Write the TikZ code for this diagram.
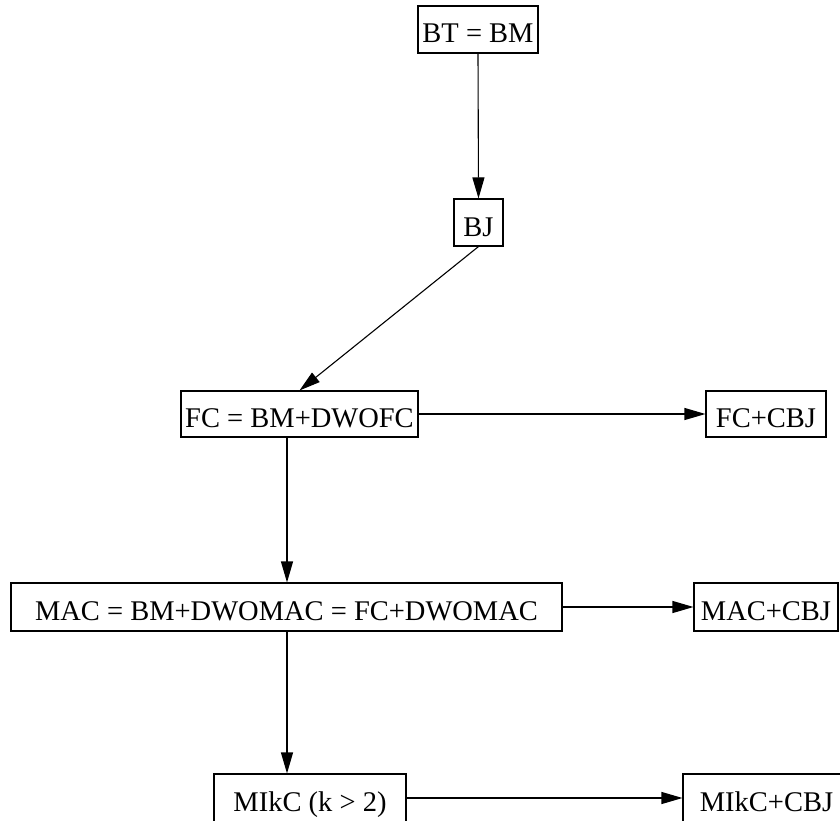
\documentclass[tikz,border=0pt]{standalone}
\usepackage{fontspec}
\setmainfont{Liberation Serif}
\usetikzlibrary{arrows.meta}
\begin{document}
\begin{tikzpicture}[x=1pt,y=-1pt,
  box/.style={draw, line width=1.1pt, inner sep=0pt, text height=27pt, text depth=0pt,
    font=\fontsize{28.5}{34}\selectfont},
  arr/.style={line width=1.1pt, -{Triangle[length=21pt,width=12pt]}}]
\useasboundingbox (0,0) rectangle (840,821);
\node[box, minimum width=120pt, minimum height=47pt] (bt) at (478,29.5) {BT = BM};
\node[box, minimum width=49pt, minimum height=47pt] (bj) at (478.5,222.5) {BJ};
\node[box, minimum width=237pt, minimum height=46pt] (fc) at (299.5,414) {FC = BM+DWOFC};
\node[box, minimum width=120pt, minimum height=46pt] (fcc) at (766,414) {FC+CBJ};
\node[box, minimum width=551pt, minimum height=48pt] (mac) at (286.5,607) {MAC = BM+DWOMAC = FC+DWOMAC};
\node[box, minimum width=144pt, minimum height=48pt] (macc) at (766,607) {MAC+CBJ};
\node[box, minimum width=192pt, minimum height=48pt] (mik) at (310,798) {MIkC (k {\char"3E} 2)};
\node[box, minimum width=167pt, minimum height=48pt] (mikc) at (766.5,798) {MIkC+CBJ};
\coordinate (a) at (287,0);
\draw[arr] (bt.south) -- (bj.north);
\draw[arr] (bj.south) -- (fc.north);
\draw[arr] (fc.east) -- (fcc.west);
\draw[arr] (fc.south -| a) -- (mac.north -| a);
\draw[arr] (mac.east) -- (macc.west);
\draw[arr] (mac.south -| a) -- (mik.north -| a);
\draw[arr] (mik.east) -- (mikc.west);
\end{tikzpicture}
\end{document}
